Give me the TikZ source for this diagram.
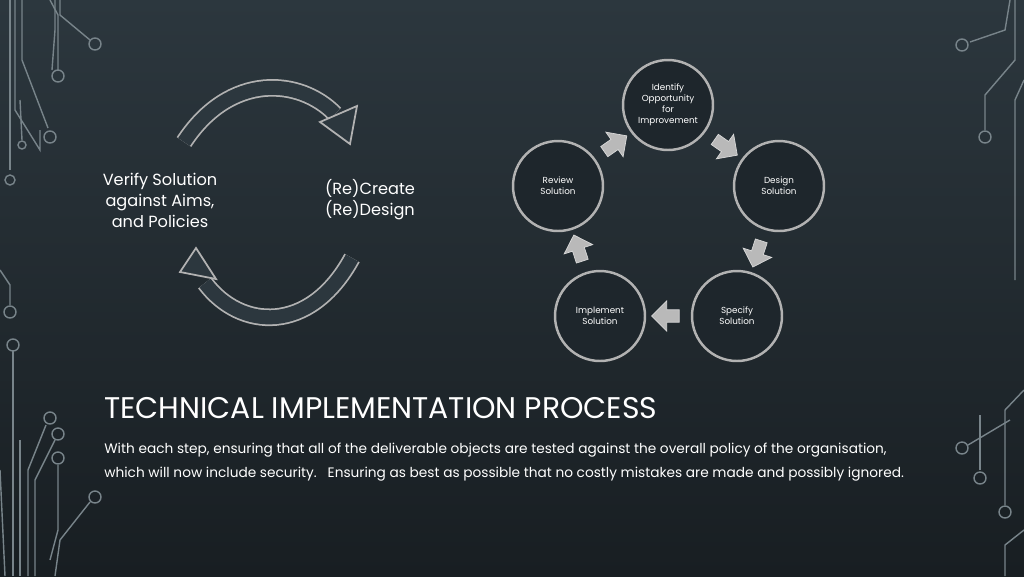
\documentclass[tikz,border=0pt]{standalone}
\usepackage{fontspec}
\setmainfont{Poppins}
\usetikzlibrary{shapes.arrows,calc}
\definecolor{bgtop}{RGB}{44,55,62}
\definecolor{bgbot}{RGB}{24,30,34}
\definecolor{disc}{RGB}{30,38,44}
\definecolor{wire}{RGB}{120,132,138}
\tikzset{
  step circle/.style={circle, draw=gray!60, line width=1.4pt, fill=disc, minimum size=1.8cm,
    align=center, text=white, font=\fontsize{5}{6.2}\selectfont},
  flow arrow/.style={single arrow, draw=gray!30, fill=gray!55, minimum height=0.55cm,
    minimum width=0.6cm, single arrow head extend=0.06cm, single arrow head indent=0pt, inner sep=1pt},
  wire/.style={draw=wire, line width=0.8pt},
  pad/.style={draw=wire, line width=0.8pt, fill=none}
}
\begin{document}
\begin{tikzpicture}[x=0.02cm, y=-0.02cm]
  \useasboundingbox (0,0) rectangle (1024,576);
  \shade[top color=bgtop, bottom color=bgbot] (0,0) rectangle (1024,576);
  % circuit traces
  \draw[wire] (10,0) -- (10,170); \draw[pad] (10,180) circle (5);
  \draw[wire] (15,0) -- (15,110) -- (40,150) -- (40,130);
  \draw[wire] (22,0) -- (22,60) -- (48,128);
  \draw[wire] (20,100) -- (22,140); \draw[pad] (22,145) circle (4);
  \draw[wire] (55,0) -- (55,30) -- (52,70);
  \draw[wire] (50,0) -- (58,15) -- (58,70); \draw[pad] (58,76) circle (6);
  \draw[wire] (60,0) -- (60,15) -- (90,40); \draw[pad] (95,44) circle (6);
  \draw[pad] (50,137) circle (6);
  \draw[wire] (0,270) -- (10,285) -- (10,305); \draw[pad] (10,312) circle (6);
  \draw[pad] (13,345) circle (6); \draw[wire] (13,351) -- (13,576);
  \draw[wire] (0,470) -- (5,576); \draw[wire] (20,440) -- (20,576);
  \draw[wire] (46,425) -- (28,470) -- (28,576); \draw[pad] (50,418) circle (6);
  \draw[wire] (55,440) -- (35,480) -- (35,576); \draw[pad] (58,434) circle (6);
  \draw[wire] (58,465) -- (58,530) -- (50,560); \draw[pad] (58,458) circle (6);
  \draw[wire] (90,502) -- (60,540) -- (55,576); \draw[pad] (95,497) circle (6);
  % right side traces
  \draw[wire] (1010,0) -- (1005,30) -- (970,42); \draw[pad] (962,45) circle (6);
  \draw[wire] (1015,0) -- (1015,60) -- (985,95) -- (985,130); \draw[pad] (985,137) circle (6);
  \draw[wire] (1024,80) -- (1015,100) -- (1015,280);
  \draw[wire] (1024,390) -- (1005,410) -- (1005,505); \draw[pad] (1005,512) circle (6);
  \draw[wire] (980,470) -- (980,415); \draw[pad] (980,478) circle (6);
  \draw[wire] (1010,420) -- (968,445); \draw[pad] (962,448) circle (6);
  \draw[wire] (1024,530) -- (1005,545) -- (1005,576);
  % left cycle
  \node[text=white, align=center, font=\fontsize{9.2}{12}\selectfont] (verify) at (160,200) {Verify Solution\\against Aims,\\and Policies};
  \node[text=white, align=center, font=\fontsize{9.2}{12}\selectfont] (recreate) at (370,200) {(Re)Create\\(Re)Design};
  \draw[gray!60, line width=1pt, double=bgtop, double distance=8pt] (184,142) .. controls (230,72) and (300,78) .. (335,114);
  \filldraw[draw=gray!60, fill=bgtop, line width=1pt] (320,122) -- (357,106) -- (350,144) -- cycle;
  \draw[gray!60, line width=1pt, double=bgtop, double distance=8pt] (352,258) .. controls (310,335) and (240,330) .. (205,283);
  \filldraw[draw=gray!60, fill=bgtop, line width=1pt] (216,279) -- (180,272) -- (196,248) -- cycle;
  % right cycle
  \node[step circle] (identify) at (668,105) {Identify\\Opportunity\\for\\Improvement};
  \node[step circle] (design) at (779,186) {Design\\Solution};
  \node[step circle] (specify) at (737,316) {Specify\\Solution};
  \node[step circle] (implement) at (600,316) {Implement\\Solution};
  \node[step circle] (review) at (558,186) {Review\\Solution};
  \node[flow arrow, rotate=-35] (a1) at ($(identify)!0.5!(design)$) {};
  \node[flow arrow, rotate=-108] (a2) at ($(design)!0.5!(specify)$) {};
  \node[flow arrow, rotate=180] (a3) at ($(specify)!0.5!(implement)$) {};
  \node[flow arrow, rotate=108] (a4) at ($(implement)!0.5!(review)$) {};
  \node[flow arrow, rotate=35] (a5) at ($(review)!0.5!(identify)$) {};
  % caption
  \node[anchor=base west, inner sep=0pt, text=white, font=\fontsize{17}{20}\selectfont] (title) at (104,418) {TECHNICAL IMPLEMENTATION PROCESS};
  \node[anchor=base west, inner sep=0pt, text=white, align=left, font=\fontsize{7.8}{13.6}\selectfont] (body) at (104,477)
    {With each step, ensuring that all of the deliverable objects are tested against the overall policy of the organisation,\\which will now include security.\ \ \ Ensuring as best as possible that no costly mistakes are made and possibly ignored.};
\end{tikzpicture}
\end{document}
